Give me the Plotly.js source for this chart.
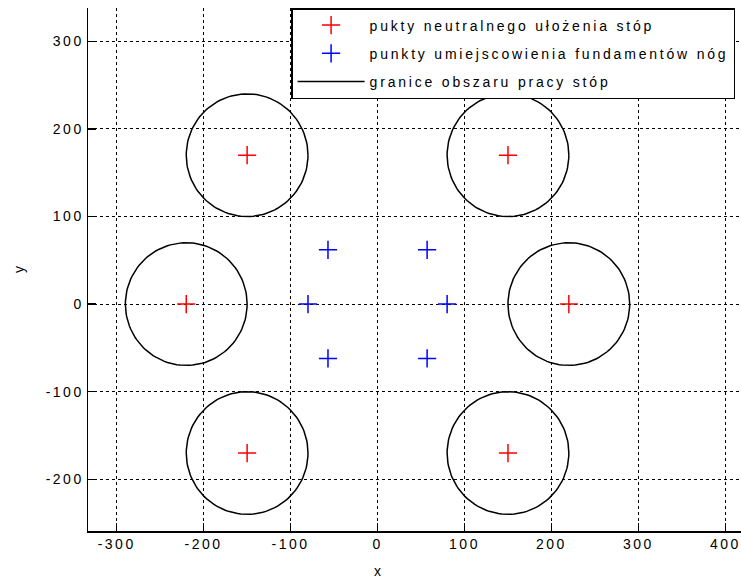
<!DOCTYPE html>
<html>
<head>
<meta charset="utf-8">
<script src="https://cdn.plot.ly/plotly-3.0.1.min.js"></script>
<style>
  html, body { margin: 0; padding: 0; background: #fff; overflow: hidden; }
  #chart { width: 741px; height: 579px; }
  .legendtext { letter-spacing: 2.8px; }
  .xtick text, .ytick text { letter-spacing: 2.5px; }
</style>
</head>
<body>
<div id="chart"></div>
<script>
// Neutral foot positions (red crosses)
const neutralX = [150, -150, -220, -150, 150, 220];
const neutralY = [170, 170, 0, -170, -170, 0];
// Leg base positions (blue crosses)
const baseX = [57, -57, -80, -57, 57, 80];
const baseY = [62, 62, 0, -62, -62, 0];
// Workspace radius around each neutral position
const workRadius = 70;

const xTicks = [-300, -200, -100, 0, 100, 200, 300, 400];
const yTicks = [-200, -100, 0, 100, 200, 300];

const labels = [
  'pukty neutralnego ułożenia stóp',
  'punkty umiejscowienia fundamentów nóg',
  'granice obszaru pracy stóp'
];

// circle outlines built from centers + radius
const cx = [], cy = [];
const N = 120;
for (let k = 0; k < neutralX.length; k++) {
  for (let i = 0; i <= N; i++) {
    const t = 2 * Math.PI * i / N;
    cx.push(neutralX[k] + workRadius * Math.cos(t));
    cy.push(neutralY[k] + workRadius * Math.sin(t));
  }
  cx.push(null); cy.push(null);
}

const traces = [
  {
    x: neutralX, y: neutralY, type: 'scatter', mode: 'markers',
    name: labels[0], legendgroup: 'a',
    marker: { symbol: 'cross-thin', size: 13, color: 'red', line: { color: 'red', width: 1.5 } }
  },
  {
    x: baseX, y: baseY, type: 'scatter', mode: 'markers',
    name: labels[1], legendgroup: 'b',
    marker: { symbol: 'cross-thin', size: 13, color: 'blue', line: { color: 'blue', width: 1.5 } }
  },
  {
    x: cx, y: cy, type: 'scatter', mode: 'lines',
    name: labels[2], legendgroup: 'c',
    line: { color: 'black', width: 1.5 }, connectgaps: false
  }
];

const fontFam = '"Liberation Sans Narrow", "Liberation Sans", Arial, sans-serif';

const layout = {
  width: 741, height: 579,
  margin: { l: 88, r: 0, t: 8, b: 48, autoexpand: false },
  paper_bgcolor: '#fff', plot_bgcolor: '#fff',
  font: { family: fontFam, size: 14, color: '#000' },
  showlegend: true,
  legend: {
    x: 0.311, y: 1, xanchor: 'left', yanchor: 'top',
    bgcolor: '#fff', bordercolor: '#000', borderwidth: 1.5,
    font: { family: fontFam, size: 14, color: '#000' },
    traceorder: 'grouped', tracegroupgap: 7,
    itemwidth: 67
  },
  annotations: [
    { text: 'x', xref: 'x', x: 0, yref: 'paper', y: 0, yshift: -40,
      showarrow: false, xanchor: 'center', yanchor: 'middle',
      font: { family: fontFam, size: 14, color: '#000' } }
  ],
  xaxis: {
    range: [-333, 418],
    tickvals: xTicks, ticktext: xTicks.map(String),
    ticks: 'inside', ticklen: 8, tickwidth: 1.5, tickcolor: '#000',
    showline: true, linecolor: '#000', linewidth: 1.5,
    showgrid: true, gridcolor: '#000', gridwidth: 1, griddash: '3px,3px',
    zeroline: false,
    tickfont: { family: fontFam, size: 14 }
  },
  yaxis: {
    range: [-259, 338],
    tickvals: yTicks, ticktext: yTicks.map(String),
    ticks: 'inside', ticklen: 8, tickwidth: 1.5, tickcolor: '#000',
    showline: true, linecolor: '#000', linewidth: 1.5,
    showgrid: true, gridcolor: '#000', gridwidth: 1, griddash: '3px,3px',
    zeroline: false,
    tickfont: { family: fontFam, size: 14 },
    title: { text: 'y', font: { family: fontFam, size: 14 }, standoff: 18 }
  }
};

Plotly.newPlot('chart', traces, layout, { displayModeBar: false, staticPlot: true });
</script>
</body>
</html>
